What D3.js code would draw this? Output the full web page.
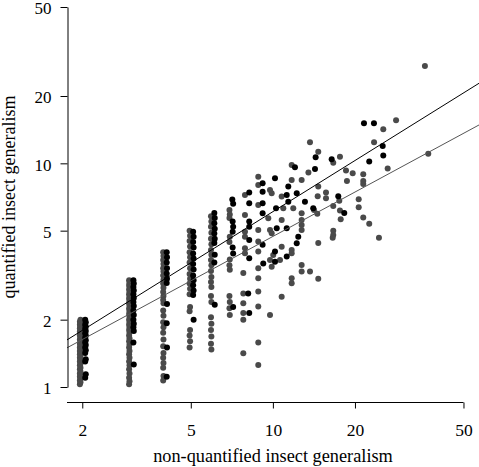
<!DOCTYPE html>
<html><head><meta charset="utf-8">
<script src="https://cdn.jsdelivr.net/npm/d3@7"></script>
<style>
body{margin:0;background:#fff}
svg{display:block;background:#fff}
text{font-family:"Liberation Serif","Times New Roman",serif;fill:#000}
</style>
</head><body>
<svg id="chart" width="479" height="467"></svg>
<script>
// ---- data ----
const xTicks = [2, 5, 10, 20, 50];
const yTicks = [1, 2, 5, 10, 20, 50];
const xTitle = "non-quantified insect generalism";
const yTitle = "quantified insect generalism";

const grayCol2 = [[1.96,1.03],[1.97,1.05],[1.96,1.07],[1.97,1.09],[1.96,1.11],[1.97,1.13],[1.96,1.15],[1.97,1.17],[1.96,1.2],[1.97,1.22],[1.96,1.25],[1.97,1.27],[1.96,1.3],[1.97,1.33],[1.96,1.35],[1.97,1.38],[1.96,1.4],[1.97,1.43],[1.96,1.45],[1.97,1.48],[1.96,1.5],[1.97,1.53],[1.96,1.56],[1.97,1.6],[1.96,1.63],[1.97,1.67],[1.96,1.7],[1.97,1.73],[1.96,1.77],[1.97,1.8],[1.96,1.83],[1.97,1.87],[1.96,1.9],[1.97,1.93],[1.96,1.96],[1.97,2.0]];
const blackCol2 = [[2.05,2.0],[2.06,1.95],[2.05,1.9],[2.06,1.86],[2.05,1.82],[2.06,1.78],[2.05,1.74],[2.06,1.7],[2.05,1.66],[2.06,1.62],[2.05,1.58],[2.06,1.54],[2.05,1.5],[2.06,1.46],[2.05,1.42],[2.06,1.33],[2.05,1.3],[2.06,1.14],[2.05,1.1]];

const grayCol3 = [[2.97,3.0],[2.98,2.93],[2.97,2.86],[2.98,2.8],[2.97,2.73],[2.98,2.66],[2.97,2.6],[2.98,2.54],[2.97,2.48],[2.98,2.42],[2.97,2.36],[2.98,2.3],[2.97,2.24],[2.98,2.18],[2.97,2.12],[2.98,2.06],[2.97,2.0],[2.98,1.95],[2.97,1.9],[2.98,1.85],[2.97,1.8],[2.98,1.75],[2.97,1.7],[2.98,1.65],[2.97,1.6],[2.98,1.55],[2.97,1.5],[2.98,1.45],[2.97,1.4],[2.98,1.35],[2.97,1.3],[2.98,1.25],[2.97,1.2],[2.98,1.15],[2.97,1.1],[2.98,1.06],[2.97,1.03]];
const blackCol3 = [[3.08,3.0],[3.09,2.9],[3.08,2.8],[3.09,2.7],[3.08,2.6],[3.09,2.5],[3.08,2.4],[3.09,2.3],[3.08,2.2],[3.09,2.1],[3.08,2.0],[3.09,1.92],[3.08,1.85],[3.09,1.78],[3.08,1.58],[3.09,1.26]];

const grayCol4 = [[3.96,4.0],[3.97,3.85],[3.96,3.7],[3.97,3.55],[3.96,3.4],[3.97,3.28],[3.96,3.15],[3.97,3.02],[3.96,2.9],[3.97,2.78],[3.96,2.66],[3.97,2.55],[3.96,2.45],[3.97,2.37],[3.96,2.2],[3.97,2.08],[3.96,1.95],[3.97,1.85],[3.96,1.75],[3.97,1.63],[3.96,1.52],[3.97,1.42],[3.96,1.35],[3.97,1.28],[3.96,1.22],[3.97,1.12],[3.96,1.07]];
const blackCol4 = [[4.08,4.0],[4.09,3.8],[4.08,3.6],[4.09,3.4],[4.08,3.22],[4.09,3.05],[4.08,2.92],[4.09,2.35],[4.08,1.93],[4.09,1.5],[4.08,1.11]];

const grayCol5 = [[4.95,5.0],[4.97,4.75],[4.95,4.5],[4.97,4.25],[4.95,4.0],[4.97,3.8],[4.95,3.6],[4.97,3.4],[4.95,3.2],[4.97,3.05],[4.95,2.9],[4.97,2.75],[4.95,2.6],[4.97,2.28],[4.95,2.18],[4.97,1.8],[4.95,1.7],[4.97,1.6],[4.95,1.5]];
const blackCol5 = [[5.1,4.95],[5.12,4.7],[5.1,4.45],[5.12,4.2],[5.1,3.95],[5.12,3.75],[5.1,3.55],[5.12,3.35],[5.1,3.15],[5.12,3.0],[5.1,2.85],[5.12,2.7],[5.1,2.58],[5.12,2.0]];

const grayCol6 = [[5.93,5.8],[5.95,5.5],[5.93,5.2],[5.95,4.9],[5.93,4.6],[5.95,4.35],[5.93,4.1],[5.95,3.9],[5.93,3.7],[5.95,3.5],[5.93,3.3],[5.95,3.1],[5.93,2.95],[5.95,2.8],[5.93,2.55],[5.95,2.4],[5.93,2.05],[5.95,1.92],[5.93,1.8],[5.95,1.68],[5.93,1.56],[5.95,1.47]];
const blackCol6 = [[6.1,6.0],[6.12,5.7],[6.1,5.4],[6.12,5.1],[6.1,4.85],[6.12,4.6],[6.1,4.4],[6.12,3.9],[6.1,3.6],[6.12,2.33]];

const grayCol7 = [[6.93,6.19],[6.95,5.9],[6.93,5.7],[6.95,4.7],[6.93,4.45],[6.95,3.72],[6.93,3.5],[6.95,3.34],[6.93,2.55],[6.95,2.4],[6.93,2.25],[6.95,2.1]];
const blackCol7 = [[7.1,6.9],[7.15,6.6],[7.12,5.5],[7.15,5.2],[7.12,4.95],[7.12,4.2],[7.15,3.95],[7.15,2.28]];

const grayMid = [[11.72,9.84],[13.5,9.1],[8.84,8.72],[8.84,8.01],[9.76,7.60],[9.90,7.35],[7.90,7.22],[8.84,6.52],[11.72,8.43],[12.75,8.43],[10.77,7.10],[10.92,6.30],[11.88,6.30],[12.75,5.98],[14.6,7.12],[14.55,5.95],[7.90,5.88],[9.62,5.68],[7.90,4.95],[8.84,5.04],[9.76,5.04],[9.90,4.87],[10.77,5.58],[12.75,5.58],[12.75,5.30],[12.75,5.04],[11.72,4.10],[11.72,3.96],[10.77,4.24],[10.03,3.89],[7.90,4.70],[8.84,4.47],[7.90,4.17],[7.90,3.96],[8.84,4.03],[9.76,3.70],[9.90,3.45],[10.62,3.70],[12.75,3.51],[12.75,3.28],[13.68,3.28],[14.67,4.40],[14.67,3.05],[7.79,3.23],[8.84,3.40],[8.84,3.06],[11.72,3.06],[11.72,2.91],[7.79,2.62],[8.84,2.67],[10.77,2.53],[7.79,2.37],[8.84,2.29],[7.79,2.14],[9.76,2.10],[7.79,2.0],[8.84,1.58],[7.79,1.415],[8.84,1.254]];
const grayRight = [[25.4,14.21],[28.3,15.6],[13.68,12.43],[14.67,11.28],[16.65,10.07],[17.62,10.71],[18.54,9.28],[19.62,9.03],[21.45,8.94],[18.69,8.34],[21.45,8.34],[21.45,8.09],[23.5,12.43],[26.36,9.47],[14.67,7.87],[15.66,7.40],[15.66,6.98],[17.52,6.81],[16.65,6.45],[14.15,6.19],[17.62,6.15],[17.73,5.62],[20.64,6.91],[20.64,6.36],[21.45,5.72],[22.56,5.37],[16.65,4.99],[16.65,4.78],[16.57,4.65],[24.49,4.65],[36.1,27.27],[37.14,11.05]];
const blackMid = [[12.05,9.61],[14.27,9.44],[9.17,8.15],[9.17,7.47],[10.18,8.58],[8.19,7.40],[8.19,6.63],[9.17,6.63],[11.39,7.87],[11.24,7.22],[12.23,7.35],[11.39,6.74],[10.27,6.30],[13.11,6.74],[14.06,6.30],[9.17,5.98],[8.19,5.49],[8.19,5.21],[10.33,5.13],[11.24,5.13],[12.39,4.70],[12.23,4.39],[10.18,4.03],[11.24,3.83],[8.19,4.54],[9.17,4.32],[8.19,3.76],[9.22,3.57],[10.18,3.63],[8.12,2.62],[8.19,2.14]];
const blackRight = [[21.58,15.11],[23.48,15.11],[14.35,10.65],[16.43,10.43],[25.28,11.96],[22.56,10.18],[25.4,10.85],[17.37,7.13],[18.27,6.00]];

// fitted log-log lines: [intercept, slope] of log10(y) = a + b*log10(x)
const fitBlack = [0.0244, 0.7595];
const fitGray = [0.0136, 0.6595];

const grayColor = "#4a4a4a";
const blackColor = "#000000";

// ---- drawing ----
const svg = d3.select("#chart");
svg.append("rect").attr("width",479).attr("height",467).attr("fill","#fff");

const x = d3.scaleLog().domain([1.758, 57.0]).range([67, 479]);
const y = d3.scaleLog().domain([1, 50]).range([387, 7]);

const grayPts = [].concat(grayCol2, grayCol3, grayCol4, grayCol5, grayCol6, grayCol7, grayMid, grayRight);
const blackPts = [].concat(blackCol2, blackCol3, blackCol4, blackCol5, blackCol6, blackCol7, blackMid, blackRight);

svg.append("g").selectAll("circle").data(grayPts).join("circle")
  .attr("cx", d => x(d[0])).attr("cy", d => y(d[1])).attr("r", 3).attr("fill", grayColor);
svg.append("g").selectAll("circle").data(blackPts).join("circle")
  .attr("cx", d => x(d[0])).attr("cy", d => y(d[1])).attr("r", 3).attr("fill", blackColor);

// regression lines
const [x0, x1] = x.domain();
function fitLine(f){ return [[x0, Math.pow(10, f[0] + f[1]*Math.log10(x0))],[x1, Math.pow(10, f[0] + f[1]*Math.log10(x1))]]; }
const lineGen = d3.line().x(d => x(d[0])).y(d => y(d[1]));
svg.append("path").attr("d", lineGen(fitLine(fitGray))).attr("stroke", "#555").attr("stroke-width", 1).attr("fill", "none");
svg.append("path").attr("d", lineGen(fitLine(fitBlack))).attr("stroke", "#000").attr("stroke-width", 1).attr("fill", "none");

// y axis
const yAxis = svg.append("g").attr("transform", "translate(67.5,0)")
  .call(d3.axisLeft(y).tickValues(yTicks).tickFormat(d3.format("d")).tickSize(7).tickSizeOuter(0).tickPadding(9));
yAxis.selectAll("text").attr("font-size", 17).attr("font-family", '"Liberation Serif",serif').attr("dy", "0.4em");
yAxis.selectAll("path,line").attr("stroke", "#000");

// x axis
const xAxisY = 402.5;
const xAxis = svg.append("g").attr("transform", `translate(0,${xAxisY})`)
  .call(d3.axisBottom(x).tickValues(xTicks).tickFormat(d3.format("d")).tickSize(6).tickSizeOuter(0));
xAxis.select(".domain").remove();
xAxis.append("line").attr("x1", 67).attr("x2", x(50)).attr("y1", 0).attr("y2", 0).attr("stroke", "#000");
xAxis.selectAll(".tick line").attr("stroke", "#000");
xAxis.selectAll(".tick text").attr("font-size", 17.5).attr("font-family", '"Liberation Serif",serif').attr("y", 33).attr("dy", 0);

// titles
svg.append("text").attr("x", 273).attr("y", 461.5).attr("text-anchor", "middle").attr("font-size", 18.3).text(xTitle);
svg.append("text").attr("transform", "translate(15,197) rotate(-90)").attr("text-anchor", "middle").attr("font-size", 18).text(yTitle);
</script>
</body></html>
